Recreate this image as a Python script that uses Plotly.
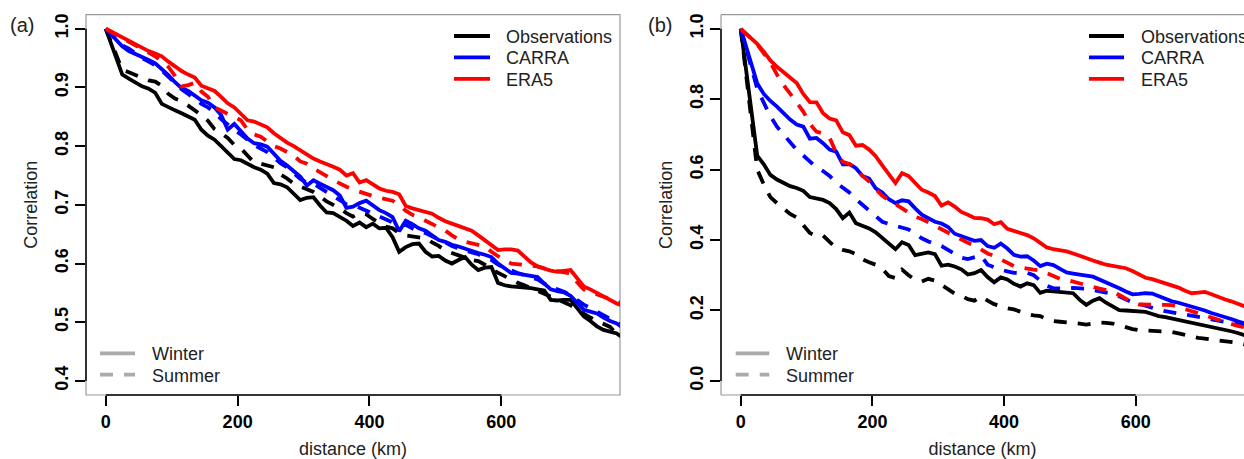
import plotly.graph_objects as go

# ---------------- data ----------------
DIST = [0] + list(range(25, 786, 10))  # km: 0, 25, 35, ..., 785

SERIES = ["Observations", "CARRA", "ERA5"]
SEASONS = ["Winter", "Summer"]

# Panel (a)
a_obs_winter = [1.0,
    .922, .915, .908, .902, .898, .891, .872, .866, .861, .856,
    .851, .845, .828, .818, .811, .800, .789, .778, .776, .770,
    .764, .760, .753, .737, .735, .730, .720, .708, .712, .713,
    .699, .687, .686, .680, .673, .664, .670, .662, .668, .660,
    .661, .645, .620, .628, .633, .634, .620, .612, .613, .605,
    .600, .606, .611, .598, .589, .593, .594, .567, .563, .561,
    .560, .560, .558, .556, .554, .538, .537, .538, .538, .524,
    .510, .502, .493, .487, .484, .481, .473]
a_obs_summer = [1.0,
    .930, .926, .921, .916, .912, .910, .903, .889, .881, .877,
    .869, .860, .853, .843, .829, .822, .814, .802, .796, .784,
    .772, .770, .767, .764, .752, .745, .736, .731, .726, .722,
    .714, .706, .700, .694, .686, .680, .686, .684, .676, .670,
    .663, .660, .652, .648, .646, .644, .643, .636, .630, .622,
    .618, .614, .610, .606, .604, .598, .590, .584, .578, .573,
    .567, .563, .558, .553, .548, .543, .539, .534, .529, .521,
    .514, .508, .502, .497, .492, .480, .474]
a_carra_winter = [1.0,
    .970, .962, .957, .953, .947, .941, .932, .921, .909, .899,
    .894, .885, .878, .874, .866, .853, .828, .838, .826, .813,
    .805, .803, .799, .788, .775, .767, .758, .748, .733, .742,
    .736, .730, .725, .716, .695, .697, .703, .707, .698, .691,
    .686, .679, .655, .673, .667, .660, .656, .648, .640, .637,
    .632, .629, .625, .621, .618, .615, .611, .600, .592, .584,
    .583, .581, .579, .577, .566, .556, .553, .551, .545, .532,
    .521, .518, .515, .508, .502, .498, .490]
a_carra_summer = [1.0,
    .972, .966, .958, .950, .944, .938, .929, .918, .907, .897,
    .889, .880, .872, .866, .858, .846, .836, .828, .820, .810,
    .802, .796, .790, .781, .771, .764, .755, .744, .738, .736,
    .729, .722, .716, .708, .701, .700, .695, .690, .686, .681,
    .676, .670, .664, .666, .660, .654, .652, .646, .641, .636,
    .630, .626, .622, .619, .616, .610, .606, .598, .593, .588,
    .584, .580, .577, .573, .566, .560, .556, .552, .546, .537,
    .530, .524, .518, .512, .506, .500, .494]
a_era5_winter = [1.0,
    .985, .979, .973, .967, .962, .958, .953, .944, .935, .928,
    .922, .917, .903, .898, .894, .884, .873, .866, .856, .844,
    .842, .837, .832, .822, .813, .806, .800, .793, .786, .779,
    .774, .770, .765, .760, .750, .754, .738, .742, .735, .728,
    .724, .722, .718, .698, .694, .691, .689, .685, .678, .672,
    .668, .664, .660, .656, .648, .640, .631, .623, .624, .624,
    .622, .612, .602, .595, .591, .588, .586, .588, .589, .575,
    .561, .556, .550, .544, .538, .532, .528]
a_era5_summer = [1.0,
    .984, .978, .972, .966, .960, .953, .945, .935, .920, .902,
    .904, .908, .893, .884, .866, .860, .855, .850, .844, .828,
    .820, .816, .808, .800, .796, .790, .784, .774, .770, .762,
    .756, .749, .742, .736, .731, .726, .722, .718, .715, .712,
    .710, .707, .700, .690, .683, .679, .673, .667, .662, .656,
    .648, .641, .637, .634, .631, .629, .620, .612, .605, .600,
    .599, .597, .596, .595, .592, .589, .587, .585, .583, .568,
    .556, .551, .547, .543, .540, .536, .530]

# Panel (b)
b_obs_winter = [1.0,
    .640, .615, .585, .572, .562, .553, .548, .540, .522, .517,
    .514, .505, .488, .462, .478, .448, .440, .433, .422, .407,
    .390, .374, .394, .386, .357, .360, .365, .360, .327, .330,
    .325, .317, .302, .306, .315, .295, .280, .294, .288, .276,
    .268, .277, .272, .250, .256, .254, .252, .251, .249, .230,
    .216, .228, .235, .222, .210, .201, .200, .199, .198, .196,
    .190, .184, .181, .177, .173, .170, .167, .163, .159, .155,
    .151, .146, .141, .136, .130, .124, .118]
b_obs_summer = [1.0,
    .600, .558, .522, .505, .490, .474, .464, .440, .420, .412,
    .413, .395, .378, .372, .368, .360, .345, .337, .330, .318,
    .298, .292, .316, .300, .287, .282, .290, .285, .272, .258,
    .248, .242, .232, .228, .240, .228, .218, .212, .206, .203,
    .196, .190, .186, .184, .175, .170, .168, .167, .166, .163,
    .160, .163, .166, .165, .163, .158, .152, .147, .144, .143,
    .142, .141, .140, .139, .135, .130, .126, .122, .120, .118,
    .116, .114, .111, .108, .104, .100, .096]
b_carra_winter = [1.0,
    .845, .815, .795, .779, .760, .742, .728, .722, .688, .690,
    .675, .657, .651, .615, .616, .604, .582, .575, .547, .535,
    .516, .505, .513, .510, .490, .472, .462, .452, .447, .437,
    .418, .412, .405, .398, .400, .383, .378, .390, .376, .358,
    .353, .354, .342, .326, .333, .329, .318, .308, .305, .303,
    .299, .296, .288, .280, .273, .263, .254, .246, .247, .249,
    .248, .240, .232, .226, .222, .217, .212, .206, .200, .193,
    .188, .182, .176, .169, .164, .158, .152]
b_carra_summer = [1.0,
    .830, .790, .752, .722, .700, .676, .656, .640, .622, .606,
    .596, .582, .563, .549, .535, .516, .500, .484, .465, .452,
    .446, .441, .436, .430, .418, .405, .396, .388, .383, .372,
    .360, .350, .346, .352, .356, .330, .322, .316, .311, .307,
    .306, .307, .300, .284, .270, .263, .262, .263, .264, .263,
    .262, .258, .254, .251, .249, .240, .231, .223, .219, .213,
    .207, .202, .198, .195, .192, .189, .187, .183, .179, .175,
    .171, .167, .163, .160, .157, .154, .150]
b_era5_winter = [1.0,
    .957, .935, .910, .892, .876, .862, .846, .815, .792, .791,
    .760, .745, .740, .706, .698, .668, .670, .657, .638, .612,
    .585, .562, .590, .582, .562, .543, .535, .525, .498, .507,
    .495, .480, .472, .463, .462, .458, .445, .451, .432, .425,
    .420, .414, .405, .392, .379, .374, .372, .368, .362, .355,
    .347, .342, .336, .330, .327, .324, .320, .312, .302, .293,
    .289, .283, .278, .271, .265, .256, .249, .251, .253, .246,
    .238, .232, .226, .218, .211, .205, .199]
b_era5_summer = [1.0,
    .956, .930, .905, .870, .840, .816, .790, .765, .730, .708,
    .703, .690, .648, .622, .616, .603, .582, .566, .545, .526,
    .513, .500, .490, .478, .466, .460, .450, .440, .430, .420,
    .412, .402, .392, .385, .372, .362, .355, .346, .336, .326,
    .322, .318, .316, .314, .305, .297, .290, .287, .282, .276,
    .270, .266, .262, .258, .253, .244, .233, .223, .217, .216,
    .216, .216, .216, .215, .210, .204, .198, .193, .187, .181,
    .174, .168, .161, .156, .152, .148, .144]

A_TICKS = [0.4, 0.5, 0.6, 0.7, 0.8, 0.9, 1.0]
A_TICKTEXT = ["0.4", "0.5", "0.6", "0.7", "0.8", "0.9", "1.0"]
B_TICKS = [0.0, 0.2, 0.4, 0.6, 0.8, 1.0]
B_TICKTEXT = ["0.0", "0.2", "0.4", "0.6", "0.8", "1.0"]
X_TICKS = [0, 200, 400, 600]
X_TICKTEXT = ["0", "200", "400", "600"]

# ---------------- style ----------------
W, H = 1244, 459
FONT = "Liberation Sans, Arial, Helvetica, sans-serif"
COLORS = ["#000000", "#0000FF", "#FF0000"]
DASHES = ["solid", "13px,11px"]
LW = 3.8
BOX = "#9a9a9a"
TXT = "#222222"


def fx(p):
    return p / W


def fy(p):
    return 1 - p / H


panel_a = [[a_obs_winter, a_obs_summer], [a_carra_winter, a_carra_summer],
           [a_era5_winter, a_era5_summer]]
panel_b = [[b_obs_winter, b_obs_summer], [b_carra_winter, b_carra_summer],
           [b_era5_winter, b_era5_summer]]

fig = go.Figure()
for panel, xa, ya in [(panel_a, "x", "y"), (panel_b, "x2", "y2")]:
    for si, pair in enumerate(panel):
        for di, vals in enumerate(pair):
            fig.add_trace(go.Scatter(
                x=DIST, y=vals, mode="lines", xaxis=xa, yaxis=ya,
                name=f"{SERIES[si]} {SEASONS[di]}", showlegend=False,
                line=dict(color=COLORS[si], width=LW, dash=DASHES[di]),
                hoverinfo="skip"))

common = dict(showgrid=False, zeroline=False, showline=False, ticks="outside",
              ticklen=10, tickwidth=1.5, tickcolor="black", automargin=False,
              tickfont=dict(family=FONT, size=18, color="black", weight="bold"))

fig.update_layout(
    template="none", width=W, height=H,
    margin=dict(l=0, r=0, t=0, b=0),
    paper_bgcolor="white", plot_bgcolor="white",
    font=dict(family=FONT, color=TXT),
    showlegend=False,
    xaxis=dict(domain=[fx(86), fx(620)], range=[-30, 780], anchor="y",
               tickvals=X_TICKS, ticktext=X_TICKTEXT,
               title=dict(text="distance (km)", font=dict(family=FONT, size=18, color=TXT), standoff=11),
               **common),
    yaxis=dict(domain=[fy(395), fy(14.7)], range=[0.376, 1.024], anchor="x",
               tickvals=A_TICKS, ticktext=A_TICKTEXT, tickangle=-90,
               title=dict(text="Correlation", font=dict(family=FONT, size=18, color=TXT), standoff=9),
               **common),
    xaxis2=dict(domain=[fx(721), 1.0], range=[-30, 764.5], anchor="y2",
                tickvals=X_TICKS, ticktext=X_TICKTEXT,
                title=dict(text="distance (km)", font=dict(family=FONT, size=18, color=TXT), standoff=11),
                **common),
    yaxis2=dict(domain=[fy(395), fy(14.7)], range=[-0.04, 1.04], anchor="x2",
                tickvals=B_TICKS, ticktext=B_TICKTEXT, tickangle=-90,
                title=dict(text="Correlation", font=dict(family=FONT, size=18, color=TXT), standoff=9),
                **common),
)

shapes = []
# gray frame (panel b cut at the right edge of the image)
shapes.append(dict(type="rect", xref="x domain", yref="y domain", x0=0, x1=1, y0=0, y1=1,
                   line=dict(color=BOX, width=1.2), layer="below"))
for (x0, y0, x1, y1) in [(0, 0, 1, 0), (0, 1, 1, 1), (0, 0, 0, 1)]:
    shapes.append(dict(type="line", xref="x2 domain", yref="y2 domain", x0=x0, x1=x1, y0=y0, y1=y1,
                       line=dict(color=BOX, width=1.2), layer="below"))
# black axis lines from first to last tick (R style)
for xa, ya, yt in [("x", "y", A_TICKS), ("x2", "y2", B_TICKS)]:
    shapes.append(dict(type="line", xref=xa, yref=ya + " domain", x0=X_TICKS[0], x1=X_TICKS[-1],
                       y0=0, y1=0, line=dict(color="black", width=1.5)))
    shapes.append(dict(type="line", xref=xa + " domain", yref=ya, x0=0, x1=0,
                       y0=yt[0], y1=yt[-1], line=dict(color="black", width=1.5)))

annotations = []
# colour legends (top right of each panel)
for lx0, lx1, tx in [(454, 490, 504), (1089, 1124, 1139)]:
    for i, name in enumerate(SERIES):
        yy = 36 + i * 21.4
        shapes.append(dict(type="line", xref="paper", yref="paper", x0=fx(lx0), x1=fx(lx1),
                           y0=fy(yy), y1=fy(yy), line=dict(color=COLORS[i], width=LW)))
        annotations.append(dict(xref="paper", yref="paper", x=fx(tx), y=fy(yy + 1),
                                text=name, showarrow=False, xanchor="left", yanchor="middle",
                                font=dict(family=FONT, size=18, color=TXT)))
# season legends (bottom left of each panel)
for lx0, lx1, tx in [(100, 135, 150), (735.7, 769.3, 784)]:
    for i, name in enumerate(SEASONS):
        yy = 353.3 + i * 21.4
        shapes.append(dict(type="line", xref="paper", yref="paper", x0=fx(lx0), x1=fx(lx1),
                           y0=fy(yy), y1=fy(yy), line=dict(color="#aaaaaa", width=LW, dash=DASHES[i])))
        annotations.append(dict(xref="paper", yref="paper", x=fx(tx), y=fy(yy + 1),
                                text=name, showarrow=False, xanchor="left", yanchor="middle",
                                font=dict(family=FONT, size=18, color=TXT)))
# panel labels
for label, cx in [("(a)", 22), ("(b)", 660)]:
    annotations.append(dict(xref="paper", yref="paper", x=fx(cx), y=fy(25), text=label,
                            showarrow=False, xanchor="center", yanchor="middle",
                            font=dict(family=FONT, size=20, color=TXT)))

fig.update_layout(shapes=shapes, annotations=annotations)
fig.write_html("out.html")
